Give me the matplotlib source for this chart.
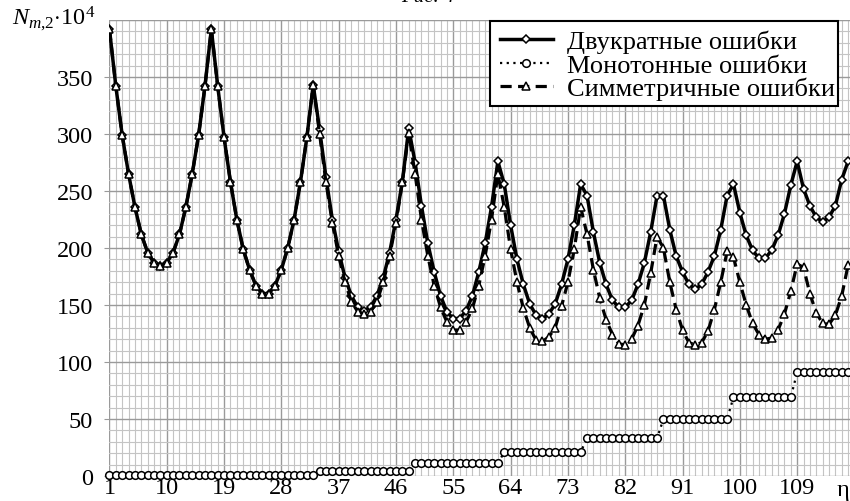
import numpy as np
import matplotlib.pyplot as plt
import matplotlib.font_manager as fm
from matplotlib.patches import Rectangle
from matplotlib.ticker import MultipleLocator, FixedLocator

# Times-like serif font
names = set(f.name for f in fm.fontManager.ttflist)
serif = 'Liberation Serif' if 'Liberation Serif' in names else 'DejaVu Serif'
plt.rcParams['font.family'] = 'serif'
plt.rcParams['font.serif'] = [serif]
plt.rcParams['mathtext.fontset'] = 'custom'
plt.rcParams['mathtext.rm'] = serif
plt.rcParams['mathtext.it'] = serif + ':italic'

# x = 1..117
n = np.arange(1, 118)

# двукратные ошибки (N*10^4)
double_err = [
    392, 342, 299, 265, 236, 212, 196, 187, 184,
    187, 196, 212, 236, 265, 299, 342, 392, 342,
    297, 258, 225, 199, 181, 167, 160, 160, 167,
    181, 200, 225, 258, 297, 343, 304, 262, 225,
    197, 174, 158, 148, 145, 148, 158, 174, 196,
    225, 258, 305, 275, 237, 204, 179, 158, 144,
    138, 138, 145, 158, 179, 204, 236, 276, 256,
    220, 190, 168, 151, 141, 138, 142, 151, 168,
    190, 220, 256, 246, 214, 187, 168, 154, 148,
    148, 154, 168, 187, 214, 246, 246, 216, 193,
    179, 168, 164, 168, 179, 193, 216, 246, 256,
    231, 211, 198, 191, 191, 198, 211, 230, 255,
    276, 252, 237, 227, 223, 227, 237, 260, 276,
]

# монотонные ошибки
mono_err = [
    1, 1, 1, 1, 1, 1, 1, 1, 1,
    1, 1, 1, 1, 1, 1, 1, 1, 1,
    1, 1, 1, 1, 1, 1, 1, 1, 1,
    1, 1, 1, 1, 1, 1, 4, 4, 4,
    4, 4, 4, 4, 4, 4, 4, 4, 4,
    4, 4, 4, 11, 11, 11, 11, 11, 11,
    11, 11, 11, 11, 11, 11, 11, 11, 21,
    21, 21, 21, 21, 21, 21, 21, 21, 21,
    21, 21, 21, 33, 33, 33, 33, 33, 33,
    33, 33, 33, 33, 33, 33, 50, 50, 50,
    50, 50, 50, 50, 50, 50, 50, 50, 69,
    69, 69, 69, 69, 69, 69, 69, 69, 69,
    91, 91, 91, 91, 91, 91, 91, 91, 91,
]

# симметричные ошибки
sym_err = [
    392, 342, 299, 265, 236, 212, 196, 187, 184,
    187, 196, 212, 236, 265, 299, 342, 392, 342,
    297, 258, 225, 199, 181, 167, 160, 160, 167,
    181, 200, 225, 258, 297, 343, 300, 258, 222,
    193, 170, 153, 144, 142, 144, 153, 170, 193,
    222, 258, 301, 265, 225, 193, 167, 148, 135,
    128, 128, 135, 147, 167, 193, 225, 265, 236,
    199, 170, 147, 130, 119, 118, 122, 130, 149,
    170, 199, 236, 212, 181, 156, 137, 124, 116,
    115, 120, 132, 150, 178, 210, 200, 170, 146,
    128, 117, 115, 117, 127, 146, 170, 197, 192,
    170, 150, 134, 124, 120, 121, 128, 142, 162,
    186, 183, 160, 143, 134, 133, 141, 158, 185,
]

fig = plt.figure(figsize=(8.5, 5.02), dpi=100)
ax = fig.add_axes([108.5 / 850, 25 / 502, (850 - 108.5) / 850, 456 / 502])

ax.plot(n, double_err, color='black', lw=2.5, marker='D', ms=4.5,
        mfc='white', mec='black', mew=1.1, label='Двукратные ошибки', zorder=3)
ax.plot(n, mono_err, color='black', lw=1.6, ls=(0, (1, 2)), marker='o', ms=5.5,
        mfc='white', mec='black', mew=1.1, label='Монотонные ошибки', zorder=4,
        clip_on=False)
ax.plot(n, sym_err, color='black', lw=2.3, ls=(0, (3.5, 2)), marker='^', ms=5.5,
        mfc='white', mec='black', mew=1.1, label='Симметричные ошибки', zorder=5)

ax.set_xlim(0.85, 117.3)
ax.set_ylim(0, 400)

ax.xaxis.set_major_locator(FixedLocator(np.arange(1, 118, 9)))
ax.xaxis.set_minor_locator(MultipleLocator(1))
ax.yaxis.set_major_locator(FixedLocator(np.arange(0, 351, 50)))
ax.yaxis.set_minor_locator(MultipleLocator(10))

ax.grid(which='minor', color='#c4c4c4', lw=0.8)
ax.grid(which='major', color='#9a9a9a', lw=1.0)
ax.axhline(400, color='#9a9a9a', lw=1.0)
ax.set_axisbelow(True)

for s in ax.spines.values():
    s.set_visible(False)

ax.tick_params(axis='x', which='both', length=0, pad=1, labelsize=17.5)
ax.tick_params(axis='y', which='major', length=3.5, color='#9a9a9a', pad=7.5,
               labelsize=17.5)
ax.tick_params(axis='y', which='minor', length=0)

fig.text(54 / 850, 1 - 19 / 502, r'$N_{m{,}2}\mathrm{\cdot 10^4}$', fontsize=17.5,
         ha='center', va='center')
fig.text(843 / 850, 1 - 480 / 502, 'η', fontsize=17.5, ha='center', va='top')
fig.text(428 / 850, 1 + 2 / 502, 'Рис. 4', fontsize=15, style='italic',
         ha='center', va='center')

# legend frame drawn separately, so it can be wider than the text
frame = Rectangle((490 / 850, 1 - 107 / 502), 348 / 850, 85 / 502,
                  transform=fig.transFigure, facecolor='white', edgecolor='black',
                  lw=1.5, zorder=9, clip_on=False)
ax.add_patch(frame)
leg = ax.legend(loc='upper left', bbox_to_anchor=(500 / 850, 1 - 31 / 502),
                bbox_transform=fig.transFigure, fontsize=19, frameon=False,
                borderpad=0, labelspacing=0.0, handlelength=2.0,
                handletextpad=0.55, borderaxespad=0)
leg.set_zorder(10)

fig.savefig('out.png', dpi=100)
